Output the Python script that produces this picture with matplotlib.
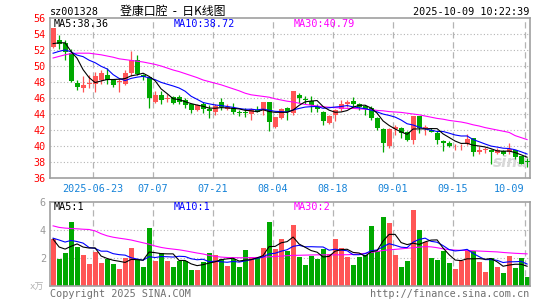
import numpy as np
import pandas as pd
import matplotlib
matplotlib.use('Agg')
import matplotlib.pyplot as plt

plt.rcParams['font.family'] = ['DejaVu Sans Mono', 'Noto Sans CJK SC']

# ===================== 数据 =====================
tick_idx = [7, 17, 27, 37, 47, 57, 67, 79]
tick_labels = ['2025-06-23', '07-07', '07-21', '08-04', '08-18', '09-01', '09-15', '10-09']

open_ = [52.4, 53.3, 52.9, 51.6, 47.9, 47.3, 47.8, 47.8, 48.3, 48.9,
         48.25, 48.0, 47.75, 49.1, 50.75, 48.9, 48.6, 45.55, 46.4, 45.9,
         46.1, 46.1, 45.7, 45.3, 44.5, 45.3, 44.6, 44.3, 45.5, 44.6,
         44.7, 44.2, 44.2, 44.0, 44.5, 44.5, 45.45, 42.4, 43.45, 44.8,
         44.1, 46.4, 45.85, 45.6, 45.0, 44.3, 42.9, 43.9, 44.6, 45.25,
         45.6, 45.25, 45.0, 44.8, 43.45, 42.1, 40.0, 42.1, 42.2, 41.8,
         40.8, 43.7, 42.2, 42.0, 41.65, 40.6, 40.4, 40.1, 40.2, 40.25,
         40.95, 39.2, 39.5, 39.5, 39.1, 39.4, 39.2, 39.5, 38.7, 38.1]
close = [54.7, 52.8, 51.8, 48.1, 47.4, 47.6, 47.85, 48.7, 49.1, 48.3,
         47.6, 48.05, 49.1, 50.8, 48.95, 48.6, 46.05, 46.4, 45.7, 46.0,
         45.4, 45.5, 45.1, 44.5, 45.1, 44.6, 44.4, 45.0, 44.9, 44.9,
         44.3, 44.1, 44.1, 44.6, 44.3, 45.5, 43.05, 43.6, 44.6, 44.3,
         46.9, 46.0, 45.8, 45.1, 44.6, 43.15, 43.75, 44.5, 45.25, 45.5,
         45.25, 44.9, 44.6, 43.45, 42.3, 40.4, 42.1, 42.4, 41.6, 40.8,
         43.7, 42.2, 42.4, 41.8, 40.75, 40.4, 40.0, 40.15, 40.3, 40.85,
         39.2, 39.5, 39.55, 39.2, 39.5, 39.0, 39.6, 38.6, 37.8, 38.0]
high = [54.8, 53.9, 53.2, 52.1, 48.25, 48.75, 48.9, 49.2, 49.5, 49.7,
        48.4, 48.5, 49.5, 51.9, 51.4, 49.0, 48.6, 46.9, 46.9, 46.5,
        46.3, 46.4, 46.0, 45.3, 45.3, 45.5, 45.1, 45.3, 46.0, 45.3,
        45.4, 44.5, 44.7, 44.7, 45.0, 45.5, 45.5, 43.6, 44.7, 44.9,
        46.9, 46.6, 46.3, 46.25, 45.2, 44.4, 43.9, 44.6, 45.8, 45.75,
        46.1, 45.4, 45.1, 45.0, 43.6, 42.2, 42.2, 42.6, 42.4, 41.9,
        43.75, 43.8, 42.6, 42.2, 41.9, 40.7, 40.6, 40.3, 40.3, 41.5,
        41.0, 40.0, 39.9, 39.6, 39.7, 39.5, 40.4, 39.5, 38.8, 38.5]
low = [52.3, 52.1, 50.75, 48.0, 47.0, 46.7, 47.2, 46.7, 47.8, 47.8,
       47.4, 46.8, 47.6, 48.7, 48.9, 48.3, 44.8, 45.4, 45.3, 45.5,
       45.3, 45.3, 44.8, 44.1, 44.4, 44.1, 43.5, 43.9, 44.5, 44.5,
       44.0, 43.75, 43.6, 43.25, 44.2, 43.9, 41.9, 42.2, 43.4, 43.25,
       43.9, 45.4, 45.3, 44.2, 44.3, 42.6, 42.7, 43.1, 44.4, 44.9,
       44.9, 44.5, 43.9, 43.3, 42.0, 39.2, 39.8, 41.4, 41.0, 40.6,
       40.3, 41.6, 41.4, 41.7, 40.3, 39.4, 39.9, 39.5, 39.5, 40.1,
       38.7, 39.0, 39.1, 37.8, 39.0, 38.9, 39.0, 38.4, 37.8, 37.4]
vol = [3.31, 1.90, 2.33, 4.55, 2.76, 2.19, 1.55, 2.40, 1.62, 1.90,
       1.55, 1.19, 1.98, 2.69, 1.83, 1.33, 4.12, 1.76, 2.33, 1.76,
       1.33, 1.76, 1.76, 1.12, 1.12, 1.69, 2.33, 2.19, 1.90, 1.40,
       1.90, 1.33, 2.55, 2.05, 2.05, 2.69, 4.55, 2.62, 3.33, 2.48,
       4.33, 2.05, 1.48, 2.14, 1.90, 2.62, 2.26, 3.33, 2.69, 2.05,
       1.48, 2.05, 2.19, 4.26, 2.48, 4.90, 4.43, 2.19, 1.33, 1.76,
       5.40, 3.98, 3.10, 1.98, 1.83, 2.48, 1.62, 1.19, 1.76, 2.48,
       2.48, 1.69, 0.98, 1.98, 1.33, 0.90, 2.12, 1.26, 1.98, 0.62]

# 窗口之前的收盘价/成交量（用于MA起点）
prior_close = [50.5, 50.0, 50.5, 51.5, 49.5, 52.3, 51.8, 53.6, 51.6]
prior_vol = [3.2, 3.8, 3.4, 3.54, 3.31, 4.7, 3.08, 3.55, 1.91]

ma30 = [51.0, 51.2, 51.4, 51.55, 51.6, 51.6, 51.6, 51.5, 51.4, 51.25,
        51.1, 50.9, 50.8, 50.7, 50.6, 50.5, 50.35, 50.2, 50.0, 49.75,
        49.5, 49.3, 49.05, 48.8, 48.55, 48.25, 48.05, 47.85, 47.65, 47.4,
        47.15, 46.9, 46.6, 46.4, 46.3, 46.2, 46.1, 45.9, 45.75, 45.6,
        45.5, 45.35, 45.2, 45.1, 45.0, 44.9, 44.85, 44.8, 44.75, 44.7,
        44.7, 44.65, 44.6, 44.55, 44.45, 44.4, 44.3, 44.25, 44.2, 44.1,
        44.0, 43.9, 43.75, 43.6, 43.45, 43.35, 43.2, 43.1, 43.0, 42.85,
        42.65, 42.5, 42.3, 42.15, 42.0, 41.85, 41.7, 41.3, 41.05, 40.8]
vol_ma30 = [4.26, 4.15, 4.1, 4.07, 4.05, 4.02, 4.0, 3.9, 3.7, 3.55,
            3.45, 3.38, 3.32, 3.25, 3.15, 3.05, 2.95, 2.82, 2.72, 2.65,
            2.6, 2.55, 2.48, 2.4, 2.32, 2.25, 2.15, 2.08, 2.03, 2.0,
            1.99, 1.98, 1.98, 1.99, 2.0, 2.02, 2.05, 2.07, 2.1, 2.13,
            2.15, 2.16, 2.17, 2.18, 2.19, 2.19, 2.19, 2.19, 2.19, 2.2,
            2.22, 2.25, 2.3, 2.36, 2.43, 2.5, 2.55, 2.58, 2.62, 2.66,
            2.7, 2.74, 2.78, 2.76, 2.7, 2.62, 2.56, 2.53, 2.51, 2.5,
            2.48, 2.46, 2.44, 2.42, 2.4, 2.36, 2.33, 2.3, 2.28, 2.26]

# ===================== 计算 =====================
n = len(close)
x = np.arange(n)
xc = x + 0.4167
o = np.array(open_); c = np.array(close)
up = c >= o
RED, GREEN = '#ff5555', '#00a800'
cols = np.where(up, RED, GREEN)

c_all = pd.Series(prior_close + close)
ma5 = c_all.rolling(5).mean().iloc[len(prior_close):].values
ma10 = c_all.rolling(10).mean().iloc[len(prior_close):].values
v_all = pd.Series(prior_vol + vol)
vma5 = v_all.rolling(5).mean().iloc[len(prior_vol):].values
vma10 = v_all.rolling(10).mean().iloc[len(prior_vol):].values

# ===================== 绘图 =====================
W, H = 545, 300
fig = plt.figure(figsize=(W / 100, H / 100), dpi=100)
ax = fig.add_axes([50 / W, (H - 178) / H, 480 / W, 160 / H])
ax2 = fig.add_axes([50 / W, (H - 285.5) / H, 480 / W, 84 / H])

FRAME = '#a0a0a0'
GRID = '#b4b4b4'
for a in (ax, ax2):
    a.set_xlim(-0.1, 79.9)
    for s in a.spines.values():
        s.set_color(FRAME)
        s.set_linewidth(1.2)
    for t in tick_idx:
        a.axvline(t, color=GRID, lw=0.9, ls=(0, (5, 3)), zorder=0)

# 主图
ax.set_ylim(36, 56)
for p in range(38, 56, 2):
    ax.axhline(p, color=GRID, lw=0.8, ls=(0, (1, 2)), zorder=0)
ax.vlines(xc, low, high, colors=cols, lw=0.9, zorder=2)
body_lo = np.minimum(o, c)
body_h = np.maximum(np.abs(c - o), 0.07)
ax.bar(x, body_h, bottom=body_lo, width=0.833, align='edge', color=cols, lw=0, zorder=3)
ax.plot(xc, ma30, color='#ff00ff', lw=0.8, zorder=4)
ax.plot(xc, ma10, color='#0000ff', lw=0.8, zorder=4)
ax.plot(xc, ma5, color='black', lw=0.8, zorder=4)

ax.set_yticks(range(36, 57, 2))
ax.tick_params(axis='y', length=0, pad=3, labelcolor='red', labelsize=7.3)
ax.set_xticks(tick_idx)
ax.set_xticklabels(tick_labels)
ax.tick_params(axis='x', length=0, pad=4, labelcolor='#1683d8', labelsize=7.3)
ax.get_xticklabels()[-1].set_horizontalalignment('right')

ax.text(478 / 480 * 80 - 0.1, 37.0, 'sina', fontsize=11, fontweight='bold', style='italic',
        color='#d8d8d8', family='DejaVu Sans', ha='right', va='bottom', zorder=1)

# 成交量
ax2.set_ylim(0, 6)
for v in (2, 4):
    ax2.axhline(v, color=GRID, lw=0.8, ls=(0, (1, 2)), zorder=0)
ax2.bar(x, vol, width=0.833, align='edge', color=cols, lw=0, zorder=2)
ax2.plot(xc, vol_ma30, color='#ff00ff', lw=0.8, zorder=3)
ax2.plot(xc, vma10, color='#0000ff', lw=0.8, zorder=3)
ax2.plot(xc, vma5, color='black', lw=0.8, zorder=3)
ax2.set_yticks([2, 4, 6])
ax2.tick_params(axis='y', length=0, pad=3, labelcolor='#999999', labelsize=7.3)
ax2.set_xticks([])


def ftext(px, py, s, **kw):
    kw.setdefault('fontsize', 7.3)
    fig.text(px / W, 1 - py / H, s, **kw)


# 标题行
ftext(50, 15, 'sz001328', va='baseline')
ftext(120, 15, '登康口腔  -  日K线图', va='baseline', fontsize=8.6,
      family=['Noto Sans CJK SC', 'DejaVu Sans'])
ftext(529, 15, '2025-10-09 10:22:39', va='baseline', ha='right')

# MA 图例
ftext(54, 27, 'MA5:38.36', va='baseline', color='black')
ftext(174, 27, 'MA10:38.72', va='baseline', color='#0000ff')
ftext(294, 27, 'MA30:40.79', va='baseline', color='#ff00ff')
ftext(54, 210, 'MA5:1', va='baseline', color='black')
ftext(174, 210, 'MA10:1', va='baseline', color='#0000ff')
ftext(294, 210, 'MA30:2', va='baseline', color='#ff00ff')

ftext(44, 290, 'x万', va='baseline', ha='right', color='#b0b0b0', fontsize=6.5,
      family=['DejaVu Sans Mono', 'Noto Sans CJK SC'])
ftext(50, 297, 'Copyright 2025 SINA.COM', va='baseline', color='#707070')
ftext(529, 297, 'http://finance.sina.com.cn', va='baseline', ha='right', color='#707070')

fig.savefig('out.png', dpi=100)
